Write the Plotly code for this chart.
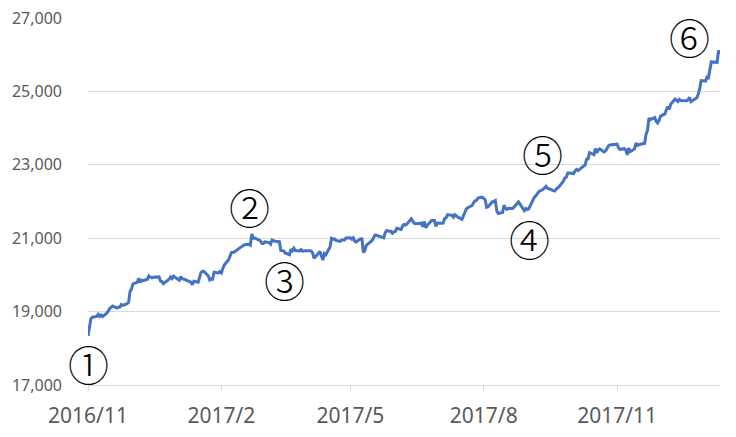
import pandas as pd
import plotly.graph_objects as go

# Daily closing values, grouped by month (trading days only)
nov2016 = [18332, 18589, 18808, 18848, 18869, 18924, 18868, 18904, 18868, 18957, 19024, 19083, 19153, 19098, 19122, 19124]
dec2016 = [19192, 19171, 19217, 19252, 19550, 19615, 19757, 19797, 19912, 19793, 19853, 19843, 19883, 19975, 19942, 19918, 19934, 19946, 19833, 19819, 19763]
jan2017 = [19882, 19942, 19899, 19964, 19887, 19855, 19954, 19891, 19886, 19826, 19804, 19732, 19827, 19799, 19913, 20068, 20100, 20093, 19971, 19864]
feb2017 = [19891, 19885, 20071, 20052, 20090, 20054, 20172, 20269, 20413, 20504, 20612, 20620, 20624, 20744, 20776, 20811, 20822, 20838, 20812]
mar2017 = [21116, 21003, 21006, 20954, 20924, 20856, 20858, 20903, 20881, 20837, 20950, 20934, 20914, 20905, 20668, 20661, 20656, 20597, 20550, 20701, 20659, 20728, 20663]
apr2017 = [20650, 20689, 20648, 20662, 20656, 20658, 20651, 20591, 20453, 20636, 20523, 20404, 20578, 20548, 20763, 20996, 20975, 20981, 20941]
may2017 = [20913, 20950, 20957, 20951, 21007, 21013, 20975, 21012, 20919, 20897, 20982, 20980, 20607, 20663, 20804, 20894, 20937, 21012, 21083, 21080, 21029, 21009]
jun2017 = [21144, 21206, 21184, 21136, 21173, 21182, 21272, 21236, 21328, 21374, 21360, 21384, 21528, 21468, 21410, 21397, 21395, 21409, 21311, 21455, 21288, 21350]
jul2017 = [21479, 21479, 21321, 21414, 21409, 21410, 21533, 21554, 21638, 21630, 21575, 21641, 21612, 21580, 21513, 21613, 21711, 21797, 21830, 21891]
aug2017 = [21964, 22016, 22026, 22093, 22118, 22085, 22049, 21844, 21858, 21993, 21998, 22025, 21750, 21675, 21703, 21900, 21812, 21783, 21814, 21808, 21865, 21892, 21948]
sep2017 = [21988, 21753, 21807, 21785, 21798, 22057, 22119, 22158, 22204, 22268, 22331, 22370, 22412, 22359, 22350, 22296, 22284, 22341, 22381, 22405]
oct2017 = [22557, 22642, 22661, 22775, 22774, 22761, 22831, 22873, 22841, 22872, 22957, 22997, 23158, 23163, 23329, 23274, 23441, 23330, 23401, 23434, 23349, 23377]
nov2017 = [23436, 23517, 23539, 23548, 23557, 23563, 23461, 23422, 23440, 23409, 23271, 23458, 23358, 23430, 23591, 23526, 23558, 23580, 23836, 23940, 24272]
dec2017 = [24232, 24290, 24180, 24140, 24212, 24329, 24387, 24505, 24585, 24509, 24652, 24792, 24755, 24726, 24782, 24754, 24746, 24775, 24838, 24719]
jan2018 = [24825, 24922, 25075, 25296, 25283, 25386, 25370, 25575, 25803, 25793, 26116, 26017]

holidays = ["2016-11-24", "2016-12-26", "2017-01-02", "2017-01-16", "2017-02-20", "2017-04-14",
            "2017-05-29", "2017-07-04", "2017-09-04", "2017-11-23", "2017-12-25", "2018-01-01", "2018-01-15"]
start_date = "2016-11-08"
end_date = "2018-01-18"

tick_dates = ["2016-11-08", "2017-02-08", "2017-05-08", "2017-08-08", "2017-11-08"]
tick_labels = ["2016/11", "2017/2", "2017/5", "2017/8", "2017/11"]

labels = ["①", "②", "③", "④", "⑤", "⑥"]
label_x = [0.0, 0.2563, 0.3117, 0.6978, 0.7199, 0.9525]
label_y = [0.061, 0.488, 0.290, 0.401, 0.632, 0.951]

months = [nov2016, dec2016, jan2017, feb2017, mar2017, apr2017, may2017, jun2017,
          jul2017, aug2017, sep2017, oct2017, nov2017, dec2017, jan2018]
values = [v for m in months for v in m]
days = pd.bdate_range(start_date, end_date)
days = days[~days.isin(pd.to_datetime(holidays))]
n = min(len(days), len(values))
dates = days[:n]
values = values[:n]

fig = go.Figure()
fig.add_trace(go.Scatter(x=dates, y=values, mode="lines",
                         line=dict(color="#4472C4", width=3), hoverinfo="skip"))

font_family = "Noto Sans, Noto Sans CJK JP, sans-serif"
for t, x, y in zip(labels, label_x, label_y):
    fig.add_annotation(text=t, x=x, y=y, xref="paper", yref="paper",
                       xanchor="center", yanchor="middle", showarrow=False,
                       font=dict(family="Noto Sans CJK JP", size=41, color="#000000", weight=300))

fig.update_layout(
    width=736, height=437,
    margin=dict(l=88, r=16, t=18, b=52, autoexpand=False),
    paper_bgcolor="white", plot_bgcolor="white",
    showlegend=False,
    font=dict(family=font_family, color="#595959"),
)
fig.update_xaxes(
    type="date", range=[start_date, end_date],
    tickvals=tick_dates, ticktext=tick_labels,
    showgrid=False, showline=True, linecolor="#D9D9D9", linewidth=1,
    ticks="outside", ticklen=5, tickcolor="#D9D9D9", tickwidth=1,
    tickfont=dict(size=21, color="#595959"), ticklabelstandoff=7,
    zeroline=False, automargin=False,
)
fig.update_yaxes(
    range=[17000, 27000], tick0=17000, dtick=2000, tickformat=",",
    showgrid=True, gridcolor="#D9D9D9", gridwidth=1,
    showline=False, zeroline=False, ticks="",
    tickfont=dict(size=16, color="#595959"), ticklabelstandoff=25,
    automargin=False,
)

fig.write_html("out.html", config={"displayModeBar": False},
               post_script="document.body.style.margin='0px';")
